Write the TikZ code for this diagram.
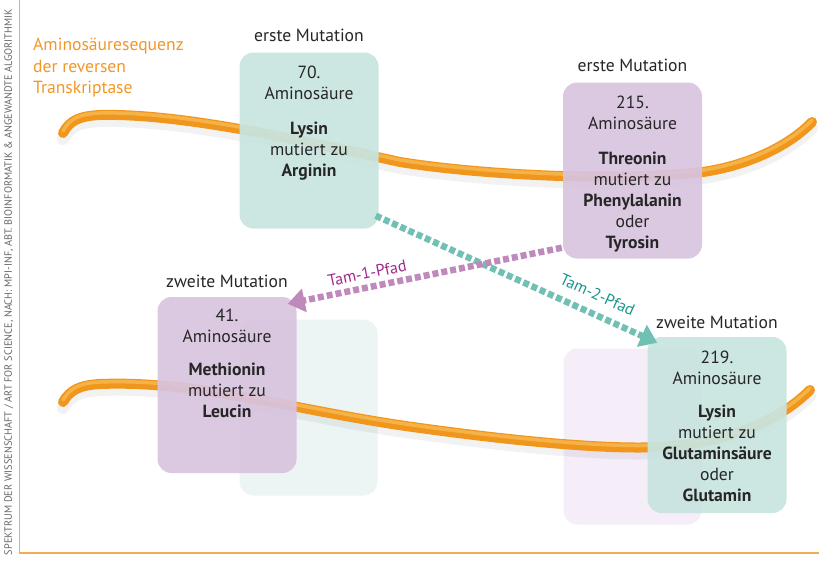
\documentclass[tikz,border=0pt]{standalone}
\usepackage{fontspec}
\setmainfont{PT Sans}
\setsansfont{PT Sans}
\usetikzlibrary{arrows.meta,positioning}

\definecolor{tubeorange}{RGB}{241,150,28}
\definecolor{tubelight}{RGB}{248,190,90}
\definecolor{boxteal}{RGB}{200,228,224}
\definecolor{boxpurple}{RGB}{216,196,223}
\definecolor{ghostteal}{RGB}{236,245,243}
\definecolor{ghostpurple}{RGB}{245,237,247}
\definecolor{pathteal}{RGB}{112,192,180}
\definecolor{pathpurple}{RGB}{192,137,188}
\definecolor{labelteal}{RGB}{24,150,140}
\definecolor{labelpurple}{RGB}{160,40,140}
\definecolor{titleorange}{RGB}{243,150,40}

\tikzset{x=1pt, y=-1pt}
\tikzset{
 mutbox/.style={rounded corners=14pt, minimum width=139pt, minimum height=176pt, inner sep=0pt, fill opacity=0.93},
 ghostbox/.style={rounded corners=14pt, minimum width=138pt, minimum height=176pt, inner sep=0pt},
 boxtext/.style={align=center, inner sep=0pt, font=\fontsize{17.6}{21}\selectfont, text=black!85},
 mutlabel/.style={inner sep=0pt, font=\fontsize{17.6}{21}\selectfont, text=black!85},
 tube/.style={line width=10pt, draw=tubeorange, line cap=round},
 tubeshine/.style={line width=3.5pt, draw=tubelight, draw opacity=0.7, line cap=round},
 tubeshadow/.style={line width=12pt, draw=black, draw opacity=0.05, line cap=round},
 tampath/.style={line width=6.5pt, dash pattern=on 6pt off 3pt, -{Triangle[length=17pt,width=23pt]}},
 tamlabel/.style={inner sep=1pt, sloped, font=\fontsize{16.2}{18}\selectfont}
}
\newcommand\toptube{(63,133) .. controls (70,120) and (80,116) .. (100,115)
 .. controls (180,113) and (300,140) .. (400,162)
 .. controls (480,175) and (620,182) .. (703,172)
 .. controls (750,165) and (790,145) .. (812,122)}
\newcommand\bottomtube{(63,402) .. controls (70,390) and (80,385) .. (100,384)
 .. controls (200,380) and (300,412) .. (420,428)
 .. controls (500,439) and (600,450) .. (660,447)
 .. controls (730,443) and (780,420) .. (810,390)}

\begin{document}
\begin{tikzpicture}
\useasboundingbox (0,0) rectangle (819,560);
% frame and credit
\draw[titleorange!80, line width=1.2pt] (19.5,0) -- (19.5,553) -- (819,553);
\node[rotate=90, inner sep=0pt, text=black!60] (credit) at (9,282)
 {\resizebox{546pt}{7.5pt}{SPEKTRUM DER WISSENSCHAFT / ART FOR SCIENCE, NACH: MPI-INF, ABT. BIOINFORMATIK \& ANGEWANDTE ALGORITHMIK}};
\node[anchor=north west, align=left, inner sep=0pt, text=titleorange, font=\fontsize{17.6}{21.5}\selectfont] (title) at (33,38)
 {Aminosäuresequenz\\der reversen\\Transkriptase};

% ghost boxes behind the second sequence
\node[ghostbox, fill=ghostteal] (g70) at (308.5,407.5) {};
\node[ghostbox, fill=ghostpurple] (g215) at (632.5,436.5) {};

% the two sequences
\foreach \seq in {\toptube, \bottomtube} {
 \draw[tubeshadow, shift={(0,6)}] \seq;
 \draw[tube] \seq;
 \draw[tubeshine, shift={(0,-2)}] \seq;
}

% mutation boxes
\node[mutbox, fill=boxteal] (b70) at (309,140.5) {};
\node[mutbox, fill=boxpurple] (b215) at (632.5,170.5) {};
\node[mutbox, fill=boxpurple] (b41) at (227,385) {};
\node[mutbox, fill=boxteal] (b219) at (717,425) {};

\node[mutlabel, above=10pt of b70.north] (l70) {erste Mutation};
\node[mutlabel, above=10pt of b215.north] (l215) {erste Mutation};
\node[mutlabel, above=9pt of b41.north] (l41) {zweite Mutation};
\node[mutlabel, above=8pt of b219.north] (l219) {zweite Mutation};

\node[boxtext, below=13pt of b70.north] (t70)
 {70.\\Aminosäure\\[14pt]\textbf{Lysin}\\mutiert zu\\\textbf{Arginin}};
\node[boxtext, below=13pt of b215.north] (t215)
 {215.\\Aminosäure\\[14pt]\textbf{Threonin}\\mutiert zu\\\textbf{Phenylalanin}\\oder\\\textbf{Tyrosin}};
\node[boxtext, below=12pt of b41.north] (t41)
 {41.\\Aminosäure\\[12pt]\textbf{Methionin}\\mutiert zu\\\textbf{Leucin}};
\node[boxtext, below=14pt of b219.north] (t219)
 {219.\\Aminosäure\\[12pt]\textbf{Lysin}\\mutiert zu\\\textbf{Glutaminsäure}\\oder\\\textbf{Glutamin}};

% pathways
\draw[tampath, pathteal] ([shift={(-3,-13)}]b70.south east) -- ([shift={(10,6)}]b219.north west)
 node[tamlabel, pos=0.76, above=9pt, text=labelteal] (tam2) {Tam-2-Pfad};
\draw[tampath, pathpurple] ([shift={(-1,-11)}]b215.south west) -- ([shift={(-9,7)}]b41.north east)
 node[tamlabel, pos=0.7, above=4pt, text=labelpurple] (tam1) {Tam-1-Pfad};
\end{tikzpicture}
\end{document}
